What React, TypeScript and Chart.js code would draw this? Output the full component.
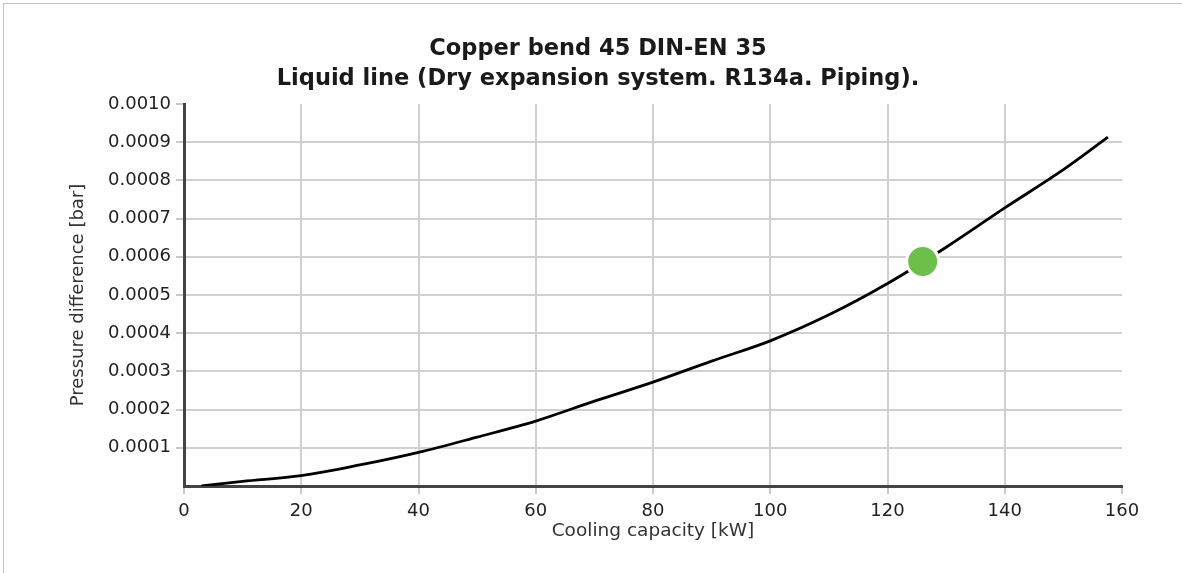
import React, { useEffect, useRef } from "react";
import { Chart, registerables } from "chart.js";

Chart.register(...registerables);

// Curve: cooling capacity [kW] vs pressure difference [bar]
const capacityKW = [3, 10, 20, 30, 40, 50, 60, 70, 80, 90, 100, 110, 120, 130, 140, 150, 157.6];
const pressureBar = [
  0, 0.000012, 0.000027, 0.000055, 0.000088, 0.000128, 0.00017, 0.000222, 0.000272,
  0.000327, 0.00038, 0.000448, 0.00053, 0.000625, 0.000728, 0.000828, 0.000913,
];

// Operating point
const pointKW = [126];
const pointBar = [0.000588];

const titleLines = ["Copper bend 45 DIN-EN 35", "Liquid line (Dry expansion system. R134a. Piping)."];
const xTitle = "Cooling capacity [kW]";
const yTitle = "Pressure difference [bar]";

const FONT = "'DejaVu Sans', Verdana, sans-serif";

export default function App() {
  const ref = useRef<HTMLCanvasElement | null>(null);

  useEffect(() => {
    if (!ref.current) return;
    const curve = capacityKW.map((x, i) => ({ x, y: pressureBar[i] }));
    const op = pointKW.map((x, i) => ({ x, y: pointBar[i] }));
    const chart = new Chart(ref.current, {
      type: "scatter",
      data: {
        datasets: [
          {
            data: op,
            backgroundColor: "#6cc04a",
            borderColor: "#ffffff",
            borderWidth: 3,
            pointRadius: 16,
            pointHoverRadius: 16,
            showLine: false,
          },
          {
            data: curve,
            showLine: true,
            borderColor: "#000000",
            borderWidth: 2.8,
            pointRadius: 0,
            cubicInterpolationMode: "monotone",
            fill: false,
          },
        ],
      },
      options: {
        animation: false,
        responsive: true,
        maintainAspectRatio: false,
        events: [],
        layout: { padding: { left: 0, right: 0, top: 0, bottom: 0 } },
        plugins: {
          legend: { display: false },
          tooltip: { enabled: false },
          title: {
            display: true,
            text: titleLines,
            color: "#1a1a1a",
            font: { family: FONT, size: 22.5, weight: "bold", lineHeight: "30px" },
            padding: { top: 30, bottom: 10 },
          },
        },
        scales: {
          x: {
            type: "linear",
            min: 0,
            max: 160,
            afterFit: (s: any) => {
              s.height = 87;
            },
            ticks: {
              stepSize: 20,
              color: "#222",
              font: { family: FONT, size: 18 },
              padding: 7,
              maxRotation: 0,
            },
            grid: {
              color: (c: any) => (c.tick && (c.tick.value === 160 || c.tick.value === 0) ? "rgba(0,0,0,0)" : "#d0d0d0"),
              lineWidth: 2,
              tickColor: "#c8c8c8",
              tickLength: 8,
              drawTicks: true,
            },
            border: { display: true, color: "#444", width: 3 },
            title: {
              display: true,
              text: xTitle,
              color: "#333",
              font: { family: FONT, size: 18.5 },
              padding: { top: 0, bottom: 31 },
            },
          },
          y: {
            type: "linear",
            min: 0,
            max: 0.001,
            afterFit: (s: any) => {
              s.width = 180;
            },
            ticks: {
              stepSize: 0.0001,
              color: "#222",
              font: { family: FONT, size: 18 },
              padding: 5,
              callback: (v: any) => (Math.abs(Number(v)) < 1e-12 ? "" : Number(v).toFixed(4)),
            },
            grid: {
              color: (c: any) =>
                c.tick && (Math.abs(c.tick.value - 0.001) < 1e-9 || Math.abs(c.tick.value) < 1e-12)
                  ? "rgba(0,0,0,0)"
                  : "#d0d0d0",
              lineWidth: 2,
              tickColor: (c: any) => (c.tick && Math.abs(c.tick.value) < 1e-12 ? "rgba(0,0,0,0)" : "#c8c8c8"),
              tickLength: 8,
            },
            border: { display: true, color: "#444", width: 3 },
            title: {
              display: true,
              text: yTitle,
              color: "#333",
              font: { family: FONT, size: 18 },
              padding: { top: 64, bottom: 0 },
            },
          },
          yRight: {
            type: "linear",
            position: "right",
            display: true,
            min: 0,
            max: 0.001,
            afterFit: (s: any) => {
              s.width = 70;
            },
            ticks: { display: false },
            grid: { display: false, drawOnChartArea: false },
            border: { display: false },
          },
        },
      },
    });
    return () => chart.destroy();
  }, []);

  return (
    <div>
      <div
        style={{
          position: "fixed",
          left: 3,
          top: 3,
          width: 1300,
          height: 700,
          border: "1px solid #c4c4c4",
          background: "#fff",
        }}
      />
      <div style={{ position: "fixed", left: 4, top: 4, width: 1188, height: 569 }}>
        <canvas ref={ref} />
      </div>
    </div>
  );
}
